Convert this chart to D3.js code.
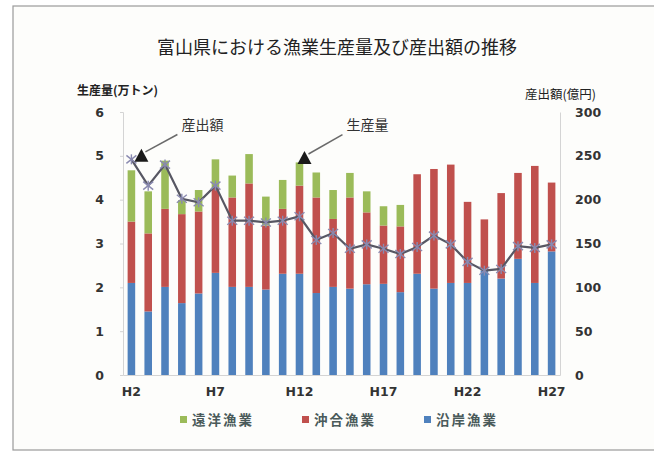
<html>
<head>
  <meta charset="utf-8">
  <script src="https://d3js.org/d3.v7.min.js"></script>
  <style>
    body { margin: 0; background: #ffffff; }
    text { font-family: "Noto Sans CJK JP", "Noto Sans", sans-serif; }
  </style>
</head>
<body>
  <div id="chart"></div>
  <script>
    // Years (Heisei) shown on the x axis
    var years = ["H2","H3","H4","H5","H6","H7","H8","H9","H10","H11","H12","H13","H14",
                 "H15","H16","H17","H18","H19","H20","H21","H22","H23","H24","H25","H26","H27"];
    var xLabels = ["H2","H7","H12","H17","H22","H27"];

    // production (万トン), stacked bottom to top
    var coastal  = [2.10,1.45,2.01,1.64,1.86,2.33,2.01,2.01,1.95,2.31,2.31,1.87,2.01,
                    1.97,2.07,2.08,1.89,2.31,1.97,2.10,2.10,2.39,2.20,2.65,2.10,2.82];
    var offshore = [1.40,1.78,1.78,2.03,1.87,1.95,2.04,2.36,1.46,1.48,2.01,2.18,1.55,
                    2.08,1.64,1.33,1.50,2.27,2.73,2.70,1.85,1.16,1.95,1.96,2.67,1.57];
    var distant  = [1.17,0.96,1.10,0.32,0.49,0.64,0.50,0.67,0.66,0.66,0.53,0.57,0.66,
                    0.56,0.48,0.44,0.49,0,0,0,0,0,0,0,0,0];

    // output value (億円), right axis
    var outputValue = [246,216,240,201,197,216,176,176,174,176,181,154,162,
                       144,149,144,138,146,159,149,129,119,121,147,145,149];

    var leftTicks = [0,1,2,3,4,5,6];
    var rightTicks = [0,50,100,150,200,250,300];

    var seriesKeys = ["coastal","offshore","distant"];
    var seriesNames = {distant: "遠洋漁業", offshore: "沖合漁業", coastal: "沿岸漁業"};
    var colors = {coastal: "#4f81bd", offshore: "#c0504d", distant: "#9bbb59"};

    var W = 654, H = 454;
    var plot = {left: 123, right: 560, top: 112, bottom: 375};

    var table = years.map(function(y, i) {
      return {year: y, coastal: coastal[i], offshore: offshore[i], distant: distant[i], value: outputValue[i]};
    });

    var svg = d3.select("#chart").append("svg")
      .attr("width", W).attr("height", H);

    // scanned frame
    svg.append("rect").attr("x", 13).attr("y", 6).attr("width", W).attr("height", 444)
      .attr("fill", "#fdfdfb").attr("stroke", "#9a9a9a").attr("stroke-width", 1.2);

    var x = d3.scaleBand().domain(years).range([plot.left, plot.right])
      .paddingInner(0.55).paddingOuter(0.275);
    var yL = d3.scaleLinear().domain([0, 6]).range([plot.bottom, plot.top]);
    var yR = d3.scaleLinear().domain([0, 300]).range([plot.bottom, plot.top]);

    // title
    svg.append("text").attr("x", 337).attr("y", 54).attr("text-anchor", "middle")
      .style("font-size", "18px").attr("fill", "#222").text("富山県における漁業生産量及び産出額の推移");

    // axis titles
    svg.append("text").attr("x", 77).attr("y", 95)
      .style("font-size", "12px").style("font-weight", "bold").attr("fill", "#222")
      .text("生産量(万トン)");
    svg.append("text").attr("x", 596).attr("y", 99).attr("text-anchor", "end")
      .style("font-size", "12.5px").attr("fill", "#222").text("産出額(億円)");

    // stacked bars
    var stacked = d3.stack().keys(seriesKeys)(table);
    svg.append("g").selectAll("g")
      .data(stacked)
      .enter().append("g")
        .attr("fill", function(d) { return colors[d.key]; })
      .selectAll("rect")
      .data(function(d) { return d; })
      .enter().append("rect")
        .attr("x", function(d) { return x(d.data.year); })
        .attr("y", function(d) { return yL(d[1]); })
        .attr("height", function(d) { return yL(d[0]) - yL(d[1]); })
        .attr("width", x.bandwidth());

    // axes
    var leftAxis = svg.append("g").attr("transform", "translate(" + plot.left + ",0)")
      .call(d3.axisLeft(yL).tickValues(leftTicks).tickFormat(d3.format("d")).tickSize(3).tickPadding(16));
    var rightAxis = svg.append("g").attr("transform", "translate(" + plot.right + ",0)")
      .call(d3.axisRight(yR).tickValues(rightTicks).tickFormat(d3.format("d")).tickSize(0).tickPadding(15));
    var bottomAxis = svg.append("g").attr("transform", "translate(0," + plot.bottom + ")")
      .call(d3.axisBottom(x).tickValues(xLabels).tickSize(0).tickPadding(12));

    [leftAxis, rightAxis, bottomAxis].forEach(function(a) {
      a.select(".domain").style("stroke", "#d4d4d4");
      a.selectAll(".tick line").style("stroke", "#d4d4d4");
      a.selectAll("text").attr("fill", "#333").style("font-size", "12.5px")
        .style("font-weight", "bold").style("font-family", "'DejaVu Sans', sans-serif");
    });
    leftAxis.selectAll("text").attr("text-anchor", "end");

    // output value line
    var line = d3.line()
      .x(function(d) { return x(d.year) + x.bandwidth() / 2; })
      .y(function(d) { return yR(d.value); });
    svg.append("path").datum(table)
      .attr("d", line).attr("fill", "none")
      .attr("stroke", "#575763").attr("stroke-width", 2.2);

    // star markers
    var marks = svg.append("g").selectAll("g").data(table).enter().append("g")
      .attr("transform", function(d) {
        return "translate(" + (x(d.year) + x.bandwidth() / 2) + "," + yR(d.value) + ")";
      })
      .attr("stroke", "#8a8ab0").attr("stroke-width", 1.4);
    marks.append("line").attr("x1", -5).attr("y1", -4).attr("x2", 5).attr("y2", 4);
    marks.append("line").attr("x1", -5).attr("y1", 4).attr("x2", 5).attr("y2", -4);
    marks.append("line").attr("x1", 0).attr("y1", -5).attr("x2", 0).attr("y2", 5);

    // annotations
    function callout(xc, yc, tx, ty, label) {
      svg.append("line").attr("x1", xc + 4).attr("y1", yc - 4).attr("x2", tx - 4).attr("y2", ty + 5)
        .attr("stroke", "#6a6a6a").attr("stroke-width", 1.5);
      svg.append("path")
        .attr("d", "M" + (xc - 7) + "," + (yc + 6) + "L" + (xc + 7) + "," + (yc + 6) + "L" + xc + "," + (yc - 7) + "Z")
        .attr("fill", "#1a1a1a");
      svg.append("text").attr("x", tx).attr("y", ty).style("font-size", "14px")
        .attr("fill", "#333").text(label);
    }
    var x2 = x("H2") + x.bandwidth() / 2, x12 = x("H12") + x.bandwidth() / 2;
    callout(x2 + 10, yL(5.0), x2 + 50, yL(5.6), "産出額");
    callout(x12 + 5, yL(4.95), x12 + 47, yL(5.6), "生産量");

    // legend
    var legendOrder = ["distant", "offshore", "coastal"];
    var legend = svg.append("g").selectAll("g").data(legendOrder).enter().append("g")
      .attr("transform", function(d, i) { return "translate(" + (180 + i * 122) + ",420)"; });
    legend.append("rect").attr("x", 0).attr("y", -4).attr("width", 7).attr("height", 7)
      .attr("fill", function(d) { return colors[d]; });
    legend.append("text").attr("x", 12).attr("y", 5).style("font-size", "13.5px")
      .style("font-weight", "bold").style("letter-spacing", "2px")
      .attr("fill", "#4a5a5a").text(function(d) { return seriesNames[d]; });
  </script>
</body>
</html>
